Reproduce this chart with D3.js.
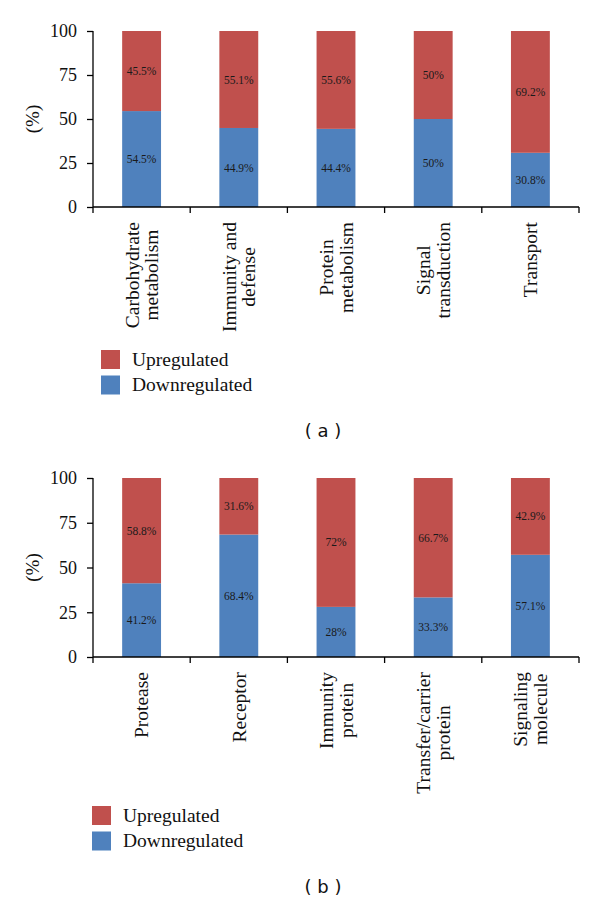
<!DOCTYPE html>
<html>
<head>
<meta charset="utf-8">
<script src="https://cdn.jsdelivr.net/npm/d3@7"></script>
<style>
  html, body { margin: 0; padding: 0; background: #fff; }
  svg { display: block; }
  .serif { font-family: "Liberation Serif", "Times New Roman", serif; }
</style>
</head>
<body>
<svg id="chart" width="600" height="903"></svg>
<script>
// ---- Data ----
const categoriesA = ["Carbohydrate\nmetabolism", "Immunity and\ndefense", "Protein\nmetabolism", "Signal\ntransduction", "Transport"];
const upA   = [45.5, 55.1, 55.6, 50, 69.2];
const downA = [54.5, 44.9, 44.4, 50, 30.8];

const categoriesB = ["Protease", "Receptor", "Immunity\nprotein", "Transfer/carrier\nprotein", "Signaling\nmolecule"];
const upB   = [58.8, 31.6, 72, 66.7, 42.9];
const downB = [41.2, 68.4, 28, 33.3, 57.1];

const yTicks = [0, 25, 50, 75, 100];
const seriesNames = ["Upregulated", "Downregulated"];
const panelLabels = ["( a )", "( b )"];

// ---- Style ----
const RED = "#C0504D", BLUE = "#4F81BD";
const SERIF = "Liberation Serif";
const svg = d3.select("#chart");

function panel(cfg) {
  const { cats, up, down, yTop, yBot, legX, legY, label, labelY } = cfg;
  const xLeft = 93, xRight = 579;
  const g = svg.append("g");

  const x = d3.scaleBand().domain(cats.map((d, i) => i)).range([xLeft, xRight]).padding(0);
  const y = d3.scaleLinear().domain([0, 100]).range([yBot, yTop]);
  const barW = x.bandwidth() * 0.4;

  const rows = cats.map((c, i) => ({ i, down: down[i], up: up[i] }));

  g.selectAll("rect.down").data(rows).join("rect")
    .attr("x", d => x(d.i) + (x.bandwidth() - barW) / 2)
    .attr("width", barW)
    .attr("y", d => y(d.down))
    .attr("height", d => y(0) - y(d.down))
    .attr("fill", BLUE);
  g.selectAll("rect.up").data(rows).join("rect")
    .attr("x", d => x(d.i) + (x.bandwidth() - barW) / 2)
    .attr("width", barW)
    .attr("y", d => y(d.down + d.up))
    .attr("height", d => y(d.down) - y(d.down + d.up))
    .attr("fill", RED);

  const lblFont = 11.5;
  const vg = g.append("g").attr("font-family", SERIF).attr("font-size", lblFont).attr("fill", "#1a1a1a").attr("text-anchor", "middle");
  vg.selectAll("text.vd").data(rows).join("text")
    .attr("x", d => x(d.i) + x.bandwidth() / 2)
    .attr("y", d => y(d.down / 2))
    .attr("dy", "0.35em")
    .text(d => d.down + "%");
  vg.selectAll("text.vu").data(rows).join("text")
    .attr("x", d => x(d.i) + x.bandwidth() / 2)
    .attr("y", d => y(d.down + d.up / 2))
    .attr("dy", "0.35em")
    .text(d => d.up + "%");

  // y axis
  const yAxis = g.append("g").attr("transform", `translate(${xLeft},0)`)
    .call(d3.axisLeft(y).tickValues(yTicks).tickSize(6).tickPadding(10).tickFormat(d3.format("d")));
  yAxis.attr("font-family", SERIF).attr("font-size", 18);
  yAxis.select(".domain").attr("d", `M0,${yTop}V${yBot + 6}`).attr("stroke", "#000").attr("stroke-width", 1.3);
  yAxis.selectAll(".tick line").attr("stroke", "#000").attr("stroke-width", 1.3);
  yAxis.selectAll(".tick text").attr("fill", "#111");

  // x axis
  const xAxis = g.append("g").attr("transform", `translate(0,${yBot})`)
    .call(d3.axisBottom(x).tickSize(0).tickFormat(""));
  xAxis.select(".domain").attr("d", `M${xLeft},0H${xRight}`).attr("stroke", "#000").attr("stroke-width", 1.3);
  const bounds = cats.map((c, i) => x(i)).concat([x(cats.length - 1) + x.bandwidth()]);
  xAxis.selectAll("line.bt").data(bounds.slice(1)).join("line")
    .attr("x1", d => d).attr("x2", d => d).attr("y1", 0).attr("y2", 6)
    .attr("stroke", "#000").attr("stroke-width", 1.3);

  // category labels
  const lh = 19.5;
  cats.forEach((c, i) => {
    const lines = c.split("\n");
    const cg = g.append("g")
      .attr("font-family", SERIF).attr("font-size", 19.5).attr("fill", "#111").attr("text-anchor", "middle")
      .attr("transform", `translate(${x(i) + x.bandwidth() / 2},${yBot + 15}) rotate(-90)`);
    const ts = cg.selectAll("text").data(lines).join("text")
      .attr("y", (d, j) => (j - (lines.length - 1) / 2) * lh)
      .attr("dy", "0.35em")
      .text(d => d);
    let maxLen = 0;
    ts.each(function () { maxLen = Math.max(maxLen, this.getComputedTextLength()); });
    ts.attr("x", -maxLen / 2);
  });

  // y-axis title
  g.append("text")
    .attr("transform", `translate(32,${(yTop + yBot) / 2}) rotate(-90)`)
    .attr("dy", "0.35em")
    .attr("text-anchor", "middle")
    .attr("font-family", SERIF).attr("font-size", 19).attr("fill", "#111")
    .text("(%)");

  // legend
  const leg = g.append("g").attr("transform", `translate(${legX},${legY})`)
    .attr("font-family", SERIF).attr("font-size", 19.5).attr("fill", "#111");
  const legColors = [RED, BLUE];
  seriesNames.forEach((s, j) => {
    leg.append("rect").attr("x", 0).attr("y", j * 25.5).attr("width", 19).attr("height", 19).attr("fill", legColors[j]);
    leg.append("text").attr("x", 31).attr("y", j * 25.5 + 15.5).text(s);
  });

  // panel label
  g.append("text")
    .attr("x", 323).attr("y", labelY)
    .attr("text-anchor", "middle")
    .attr("xml:space", "preserve")
    .attr("font-family", "DejaVu Sans").attr("font-size", 18).attr("fill", "#111")
    .text(label);
}

panel({ cats: categoriesA, up: upA, down: downA, yTop: 31, yBot: 207, legX: 101, legY: 350, label: panelLabels[0], labelY: 437 });
panel({ cats: categoriesB, up: upB, down: downB, yTop: 478, yBot: 657, legX: 92, legY: 806, label: panelLabels[1], labelY: 893 });
</script>
</body>
</html>
